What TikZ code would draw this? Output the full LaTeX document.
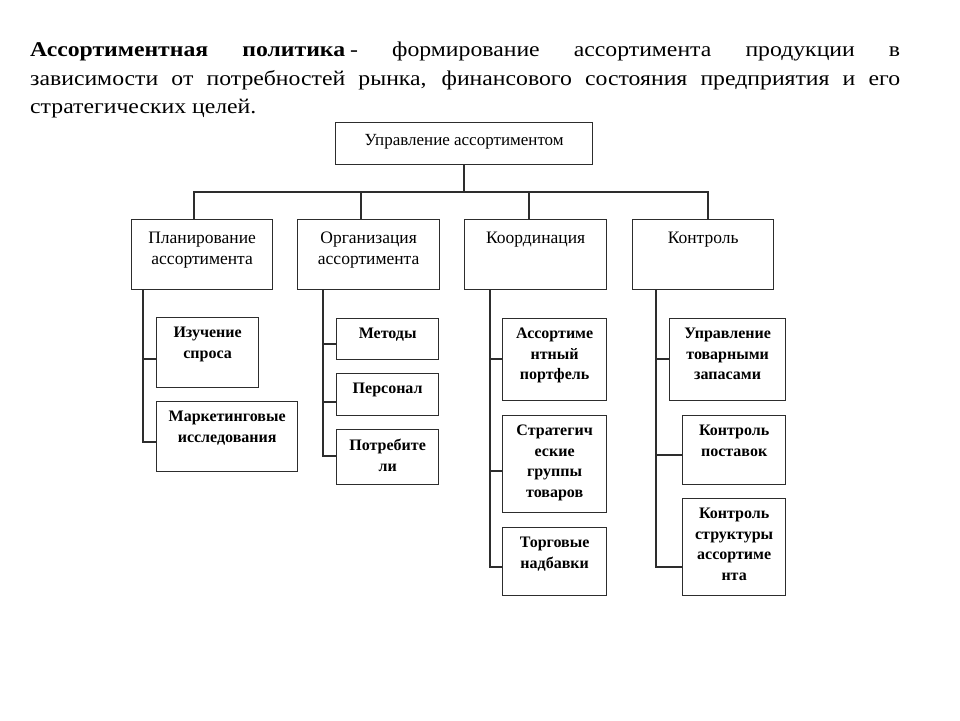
\documentclass[tikz,border=0pt]{standalone}
\usepackage{fontspec}
\setmainfont{Liberation Serif}
\newfontfamily\titlefont[FakeStretch=1.13]{Liberation Serif}
\usetikzlibrary{calc}
\definecolor{ink}{RGB}{45,45,45}
\begin{document}
\begin{tikzpicture}[x=1pt,y=-1pt,
  box/.style={draw=ink, line width=1.3pt, inner sep=0pt, anchor=north west, fill=white},
  conn/.style={draw=ink, line width=1.5pt},
  toplbl/.style={anchor=north, inner sep=0pt, align=center, font=\fontsize{17}{20.5}\selectfont, yshift=-12pt},
  midlbl/.style={anchor=north, inner sep=0pt, align=center, font=\fontsize{17.5}{20.5}\selectfont, yshift=-13pt},
  sublbl/.style={anchor=north, inner sep=0pt, align=center, font=\bfseries\fontsize{16}{20.5}\selectfont, yshift=-10pt}]
\useasboundingbox (0,0) rectangle (960,720);
\fill[white] (0,0) rectangle (960,720);

\node[anchor=north west, inner sep=0pt, text width=870pt, align=justify,
  font=\titlefont\fontsize{21}{28.5}\selectfont] (title) at (30,42)
  {\textbf{Ассортиментная политика}\kern5pt- формирование ассортимента продукции в\linebreak
   зависимости от потребностей рынка, финансового состояния предприятия и его\linebreak
   стратегических целей.};

% top
\node[box, minimum width=257pt, minimum height=42pt, label={[toplbl]north:{Управление ассортиментом}}] (T) at (335,122) {};

% level 2
\node[box, minimum width=141pt, minimum height=70pt, label={[midlbl]north:{Планирование\\ассортимента}}] (A) at (131,219) {};
\node[box, minimum width=142pt, minimum height=70pt, label={[midlbl]north:{Организация\\ассортимента}}] (B) at (297,219) {};
\node[box, minimum width=142pt, minimum height=70pt, label={[midlbl]north:{Координация}}] (C) at (464,219) {};
\node[box, minimum width=141pt, minimum height=70pt, label={[midlbl]north:{Контроль}}] (D) at (632,219) {};

% column A
\node[box, minimum width=102pt, minimum height=70pt, label={[sublbl]north:{Изучение\\спроса}}] (a1) at (156,317) {};
\node[box, minimum width=141pt, minimum height=70pt, label={[sublbl]north:{Маркетинговые\\исследования}}] (a2) at (156,401) {};
% column B
\node[box, minimum width=102pt, minimum height=41pt, label={[sublbl]north:{Методы}}] (b1) at (336,318) {};
\node[box, minimum width=102pt, minimum height=42pt, label={[sublbl]north:{Персонал}}] (b2) at (336,373) {};
\node[box, minimum width=102pt, minimum height=55pt, label={[sublbl]north:{Потребите\\ли}}] (b3) at (336,429) {};
% column C
\node[box, minimum width=104pt, minimum height=82pt, label={[sublbl]north:{Ассортиме\\нтный\\портфель}}] (c1) at (502,318) {};
\node[box, minimum width=104pt, minimum height=97pt, label={[sublbl]north:{Стратегич\\еские\\группы\\товаров}}] (c2) at (502,415) {};
\node[box, minimum width=104pt, minimum height=68pt, label={[sublbl]north:{Торговые\\надбавки}}] (c3) at (502,527) {};
% column D
\node[box, minimum width=116pt, minimum height=82pt, label={[sublbl]north:{Управление\\товарными\\запасами}}] (d1) at (669,318) {};
\node[box, minimum width=103pt, minimum height=69pt, label={[sublbl]north:{Контроль\\поставок}}] (d2) at (682,415) {};
\node[box, minimum width=103pt, minimum height=97pt, label={[sublbl]north:{Контроль\\структуры\\ассортиме\\нта}}] (d3) at (682,498) {};

% junction coordinates
\coordinate (bus) at (T.south |- 0,192);
\coordinate (jA) at (194,219);
\coordinate (jB) at (361,219);
\coordinate (jC) at (529,219);
\coordinate (jD) at (708,219);
\coordinate (sA) at (143,289);
\coordinate (sB) at (323,289);
\coordinate (sC) at (490,289);
\coordinate (sD) at (656,289);
\coordinate (a1c) at (156,359);
\coordinate (a2c) at (156,442);
\coordinate (b1c) at (336,344);
\coordinate (b2c) at (336,402);
\coordinate (b3c) at (336,456);
\coordinate (c1c) at (502,359);
\coordinate (c2c) at (502,471);
\coordinate (c3c) at (502,567);
\coordinate (d1c) at (669,359);
\coordinate (d2c) at (682,455);
\coordinate (d3c) at (682,567);

\draw[conn] (T.south) -- (bus);
\draw[conn] (jA) |- (bus) -| (jD);
\draw[conn] (jB) -- (jB |- bus);
\draw[conn] (jC) -- (jC |- bus);

\draw[conn] (sA) |- (a2c);
\draw[conn] (sA |- a1c) -- (a1c);
\draw[conn] (sB) |- (b3c);
\draw[conn] (sB |- b1c) -- (b1c);
\draw[conn] (sB |- b2c) -- (b2c);
\draw[conn] (sC) |- (c3c);
\draw[conn] (sC |- c1c) -- (c1c);
\draw[conn] (sC |- c2c) -- (c2c);
\draw[conn] (sD) |- (d3c);
\draw[conn] (sD |- d1c) -- (d1c);
\draw[conn] (sD |- d2c) -- (d2c);
\end{tikzpicture}
\end{document}
